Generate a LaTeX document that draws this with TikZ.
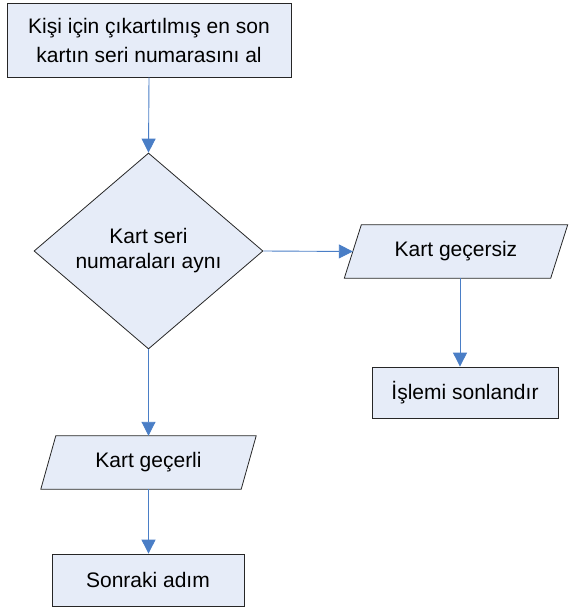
\documentclass[tikz,border=0pt]{standalone}
\usepackage{fontspec}
\setmainfont{Liberation Sans}
\usetikzlibrary{arrows.meta,shapes.geometric,backgrounds}
\definecolor{boxfill}{HTML}{E6ECF8}
\definecolor{arrowblue}{HTML}{4A7EC6}
\begin{document}
\begin{tikzpicture}[x=1pt,y=-1pt,
  base/.style={inner sep=0pt,align=center,font=\fontsize{21}{29}\selectfont},
  shapeline/.style={draw=black!85,line width=0.8pt,fill=boxfill},
  procbox/.style={base,shapeline,rectangle},
  decbox/.style={base,shapeline,diamond,minimum width=229pt,minimum height=196pt,aspect=1.17,font=\fontsize{21}{25}\selectfont},
  iobox/.style={base,rectangle,minimum height=53pt},
  conn/.style={draw=arrowblue,line width=0.9pt,-{Triangle[width=14pt,length=14pt]}}]
\useasboundingbox (0,0) rectangle (568,612);
\node[procbox,minimum width=284pt,minimum height=74pt] (start) at (149,40) {Kişi için çıkartılmış en son\\kartın seri numarasını al};
\node[decbox] (dec) at (148.5,251) {Kart seri\\numaraları aynı};
\node[iobox,minimum width=206pt] (inv) at (456,251.5) {Kart geçersiz};
\node[procbox,minimum width=186pt,minimum height=51pt] (end) at (465,392.5) {İşlemi sonlandır};
\node[iobox,minimum width=200pt] (val) at (148.5,462.5) {Kart geçerli};
\node[procbox,minimum width=192pt,minimum height=52pt] (next) at (148,580) {Sonraki adım};
\begin{scope}[on background layer]
\draw[shapeline] ([xshift=8.5pt]inv.north west) -- ([xshift=8.5pt]inv.north east) -- ([xshift=-8.5pt]inv.south east) -- ([xshift=-8.5pt]inv.south west) -- cycle;
\draw[shapeline] ([xshift=7.5pt]val.north west) -- ([xshift=7.5pt]val.north east) -- ([xshift=-7.5pt]val.south east) -- ([xshift=-7.5pt]val.south west) -- cycle;
\end{scope}
\draw[conn] (start.south) -- (dec.north);
\draw[conn] (dec.east) -- (inv.west);
\draw[conn] (dec.south) -- (dec.south |- val.north);
\draw[conn] ([xshift=4pt]inv.south) -- ([xshift=4pt]inv.south |- end.north);
\draw[conn] (val.south) -- (val.south |- next.north);
\end{tikzpicture}
\end{document}
